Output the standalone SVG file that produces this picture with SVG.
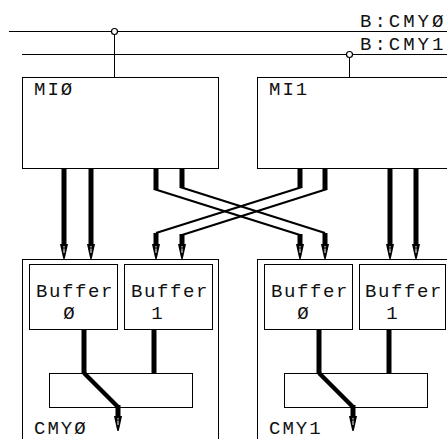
<svg xmlns="http://www.w3.org/2000/svg" xmlns:xlink="http://www.w3.org/1999/xlink" width="447" height="439" viewBox="0 0 447 439">
<style>
.box{fill:#fff;stroke:#000;stroke-width:1}
.thin{fill:none;stroke:#000;stroke-width:1}
.thick{fill:none;stroke:#000;stroke-width:5;stroke-linejoin:miter}
.diag{fill:none;stroke:#000;stroke-width:2.2}
.mdiag{fill:none;stroke:#000;stroke-width:4.5}
text{font-family:"Liberation Mono","DejaVu Sans Mono",monospace;font-size:19px;fill:#111;letter-spacing:2px}
.bus{letter-spacing:3px}
.buf{letter-spacing:1.6px}
.c{text-anchor:middle}
</style>
<defs>
<g id="ah">
<path d="M-4,-15 H4 L1.6,-4 L0.6,0 H-0.6 L-1.6,-4 Z" fill="#000"/>
<path d="M0,-13 V-6" stroke="#fff" stroke-width="1"/>
<path d="M-3,-11 H3" stroke="#000" stroke-width="1"/>
</g>
</defs>

<g id="bus-cmy0">
<line class="thin" x1="9" y1="31.5" x2="447" y2="31.5"/>
<text class="bus" x="360" y="27">B:CMYØ</text>
</g>
<g id="bus-cmy1">
<line class="thin" x1="22" y1="54.5" x2="447" y2="54.5"/>
<text class="bus" x="360" y="50">B:CMY1</text>
</g>

<g id="mi0">
<rect class="box" x="22.5" y="77.5" width="196" height="91"/>
<text x="34" y="95">MIØ</text>
</g>
<g id="mi1">
<rect class="box" x="257.5" y="77.5" width="200" height="91"/>
<text x="269" y="95">MI1</text>
</g>

<g id="cmy0">
<rect class="box" x="22.5" y="259.5" width="196" height="190"/>
<text x="34" y="434">CMYØ</text>
</g>
<g id="cmy0-buffer0">
<rect class="box" x="29.5" y="264.5" width="88" height="65"/>
<text class="buf" x="36" y="297">Buffer</text>
<text class="c" x="70" y="319">Ø</text>
</g>
<g id="cmy0-buffer1">
<rect class="box" x="124.5" y="264.5" width="88" height="65"/>
<text class="buf" x="131" y="297">Buffer</text>
<text class="c" x="158" y="319">1</text>
</g>
<g id="cmy0-mux">
<rect class="box" x="49.5" y="373.5" width="143" height="34"/>
</g>

<g id="cmy1">
<rect class="box" x="257.5" y="259.5" width="200" height="190"/>
<text x="269" y="434">CMY1</text>
</g>
<g id="cmy1-buffer0">
<rect class="box" x="264.5" y="264.5" width="88" height="65"/>
<text class="buf" x="271" y="297">Buffer</text>
<text class="c" x="304" y="319">Ø</text>
</g>
<g id="cmy1-buffer1">
<rect class="box" x="359.5" y="264.5" width="86" height="65"/>
<text class="buf" x="365" y="297">Buffer</text>
<text class="c" x="393" y="319">1</text>
</g>
<g id="cmy1-mux">
<rect class="box" x="284.5" y="373.5" width="143" height="34"/>
</g>

<g id="connectors">
<line class="thin" x1="114.5" y1="31.5" x2="114.5" y2="77.5"/>
<circle cx="114.5" cy="31.5" r="3" fill="#fff" stroke="#000" stroke-width="1.2"/>
<line class="thin" x1="349.5" y1="54.5" x2="349.5" y2="77.5"/>
<circle cx="349.5" cy="54.5" r="3" fill="#fff" stroke="#000" stroke-width="1.2"/>

<line class="thick" x1="64" y1="168" x2="64" y2="245"/>
<line class="thick" x1="91" y1="168" x2="91" y2="245"/>
<line class="thick" x1="390" y1="168" x2="390" y2="245"/>
<line class="thick" x1="416" y1="168" x2="416" y2="245"/>
<use xlink:href="#ah" x="64" y="259"/>
<use xlink:href="#ah" x="91" y="259"/>
<use xlink:href="#ah" x="390" y="259"/>
<use xlink:href="#ah" x="416" y="259"/>

<line class="thick" x1="156" y1="168" x2="156" y2="190"/>
<line class="thick" x1="182" y1="168" x2="182" y2="188"/>
<line class="thick" x1="300" y1="168" x2="300" y2="188"/>
<line class="thick" x1="325" y1="168" x2="325" y2="190"/>
<line class="diag" x1="154" y1="189" x2="300" y2="235"/>
<line class="diag" x1="180" y1="187" x2="325" y2="233"/>
<line class="diag" x1="302" y1="187" x2="156" y2="233"/>
<line class="diag" x1="327" y1="189" x2="182" y2="235"/>
<line class="thick" x1="156" y1="233" x2="156" y2="245"/>
<line class="thick" x1="182" y1="234" x2="182" y2="245"/>
<line class="thick" x1="300" y1="234" x2="300" y2="245"/>
<line class="thick" x1="325" y1="233" x2="325" y2="245"/>
<use xlink:href="#ah" x="156" y="259"/>
<use xlink:href="#ah" x="182" y="259"/>
<use xlink:href="#ah" x="300" y="259"/>
<use xlink:href="#ah" x="325" y="259"/>

<line class="thick" x1="84" y1="329" x2="84" y2="373"/>
<line class="mdiag" x1="84" y1="373" x2="118" y2="407"/>
<line class="thick" x1="118" y1="405" x2="118" y2="417"/>
<use xlink:href="#ah" x="118" y="431"/>
<line class="thick" x1="154" y1="329" x2="154" y2="374"/>

<line class="thick" x1="319" y1="329" x2="319" y2="373"/>
<line class="mdiag" x1="319" y1="373" x2="353" y2="407"/>
<line class="thick" x1="353" y1="405" x2="353" y2="417"/>
<use xlink:href="#ah" x="353" y="431"/>
<line class="thick" x1="389" y1="329" x2="389" y2="374"/>
</g>
</svg>
